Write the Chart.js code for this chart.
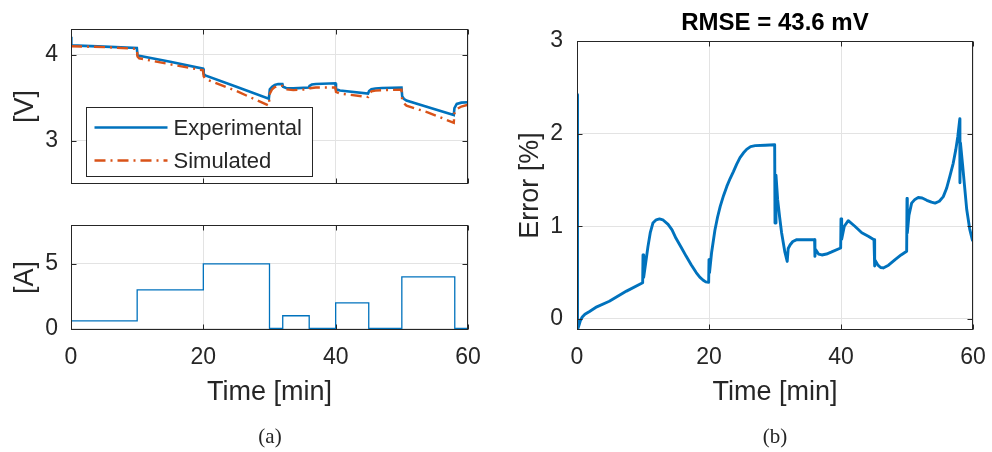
<!DOCTYPE html>
<html>
<head>
<meta charset="utf-8">
<title>Voltage, current and error</title>
<script src="https://cdn.jsdelivr.net/npm/chart.js@4.4.0/dist/chart.umd.min.js"></script>
<style>
  body { margin: 0; background: #fff; }
  #wrap { position: relative; width: 992px; height: 452px; }
  canvas { position: absolute; left: 0; top: 0; }
  .cap { position: absolute; top: 422px; width: 100px; text-align: center;
         font: 21px "Liberation Serif", serif; color: #262626; line-height: 28px; }
</style>
</head>
<body>
<div id="wrap">
  <canvas id="volt" width="992" height="452"></canvas>
  <canvas id="amp" width="992" height="452"></canvas>
  <canvas id="err" width="992" height="452"></canvas>
  <div class="cap" style="left:220px">(a)</div>
  <div class="cap" style="left:725px">(b)</div>
</div>
<script>
  Chart.defaults.font.family = '"Liberation Sans", Arial, sans-serif';
  Chart.defaults.color = '#262626';
  Chart.defaults.animation = false;

  // tick labels
  var timeTicks = [0, 20, 40, 60];
  var voltTicks = [3, 4];
  var ampTicks = [0, 5];
  var errTicks = [0, 1, 2, 3];

  // (a) top: terminal voltage [V]
  var voltTime = [0, 0.05, 5, 9.95, 10.05, 10.3, 15, 19.95, 20.05, 20.3, 25, 29.9,
                  30.05, 30.4, 30.8, 31.3, 31.95, 32.05, 32.5, 33.6, 35.95, 36.05, 36.4, 37, 38, 39.95,
                  40.05, 40.65, 44.9, 45.05, 45.4, 46, 47, 49.95, 50.05, 50.3, 50.7, 54, 57.85,
                  57.95, 58.3, 59, 60];
  var voltExp = [4.21, 4.11, 4.095, 4.08, 4.0, 3.99, 3.92, 3.84, 3.78, 3.76, 3.63, 3.49,
                 3.6, 3.63, 3.65, 3.66, 3.66, 3.63, 3.615, 3.61, 3.62, 3.64, 3.655, 3.662, 3.665, 3.67,
                 3.6, 3.585, 3.55, 3.58, 3.6, 3.61, 3.615, 3.62, 3.52, 3.49, 3.47, 3.39, 3.3,
                 3.38, 3.43, 3.445, 3.45];
  var voltSim = [4.1, 4.1, 4.09, 4.07, 3.98, 3.96, 3.89, 3.82, 3.75, 3.72, 3.58, 3.41,
                 3.55, 3.6, 3.625, 3.64, 3.64, 3.62, 3.6, 3.59, 3.6, 3.61, 3.615, 3.62, 3.62, 3.62,
                 3.57, 3.55, 3.51, 3.55, 3.575, 3.585, 3.59, 3.595, 3.47, 3.44, 3.41, 3.33, 3.21,
                 3.32, 3.37, 3.4, 3.42];

  // (a) bottom: applied current [A]
  var ampTime = [0, 10, 20, 30, 32, 36, 40, 45, 50, 58, 60];
  var ampVal = [0.6, 3, 5, 0.03, 1, 0.03, 2, 0.03, 4, 0.03, 0.03];

  // (b) relative error [%]
  var errTime = [0, 0.02, 0.15, 0.3, 0.5, 0.8, 1.2, 1.9, 3.0, 4.9, 7.5, 9.95,
                 10.0, 10.1, 10.4, 10.75, 11.1, 11.5, 12.0, 12.5, 13.0, 13.8, 14.4, 15.0, 15.8, 16.55,
                 17.3, 18.06, 18.6, 19.08, 19.5, 19.95,
                 20.0, 20.08, 20.4, 20.9, 21.3, 21.7, 22.2, 22.7, 23.2, 23.7, 24.2, 24.7, 25.2, 25.7,
                 26.3, 27.0, 28.5, 29.95,
                 30.0, 30.15, 30.4, 30.7, 31.0, 31.5, 31.85, 32.0, 32.3, 32.7, 33.3, 36.0,
                 36.05, 36.15, 36.6, 37.1, 37.8, 38.5, 39.95,
                 40.0, 40.1, 40.5, 41.1, 42.1, 43.15, 44.2, 45.0,
                 45.05, 45.15, 45.6, 46.0, 46.4, 47.2, 48.2, 49.1, 49.95,
                 50.0, 50.05, 50.3, 50.7, 51.2, 51.7, 52.3, 53.0, 53.7, 54.25, 54.9, 55.5, 56.0, 56.5,
                 57.0, 57.4, 57.7, 58.0,
                 58.02, 58.1, 58.4, 58.7, 59.05, 59.5, 59.95];
  var errVal = [2.42, -0.11, -0.115, -0.07, -0.02, 0.02, 0.05, 0.08, 0.13, 0.19, 0.3, 0.39,
                0.69, 0.45, 0.6, 0.78, 0.93, 1.035, 1.07, 1.08, 1.07, 1.02, 0.96, 0.87, 0.77, 0.675,
                0.585, 0.5, 0.45, 0.42, 0.4, 0.395,
                0.64, 0.5, 0.72, 0.96, 1.1, 1.215, 1.33, 1.43, 1.515, 1.59, 1.67, 1.74, 1.79, 1.83,
                1.86, 1.87, 1.875, 1.88,
                1.035, 1.55, 1.29, 1.1, 0.93, 0.72, 0.62, 0.76, 0.8, 0.835, 0.855, 0.855,
                0.675, 0.75, 0.7, 0.69, 0.7, 0.72, 0.765,
                1.08, 0.86, 1.0, 1.06, 1.0, 0.93, 0.89, 0.855,
                0.57, 0.64, 0.58, 0.555, 0.55, 0.58, 0.64, 0.69, 0.73,
                1.3, 0.93, 1.12, 1.25, 1.29, 1.31, 1.305, 1.28, 1.26, 1.25, 1.27, 1.32, 1.41, 1.54,
                1.68, 1.83, 1.97, 2.16,
                1.47, 1.9, 1.68, 1.45, 1.18, 0.97, 0.84];

  var blue = '#0072bd', orange = '#d95319', ink = '#262626', gridCol = '#e3e3e3';

  function pts(xs, ys) {
    return xs.map(function(x, i) { return {x: x, y: ys[i]}; });
  }

  function fixTicks(list) {
    return function(scale) { scale.ticks = list.map(function(v) { return {value: v}; }); };
  }

  // MATLAB style box with inward tick marks
  var frame = {
    id: 'frame',
    afterDraw: function(chart) {
      var a = chart.chartArea, ctx = chart.ctx, sx = chart.scales.x, sy = chart.scales.y;
      var l = Math.round(a.left) + 0.5, r = Math.round(a.right) - 0.5;
      var t = Math.round(a.top) + 0.5, b = Math.round(a.bottom) - 0.5;
      ctx.save();
      ctx.strokeStyle = ink;
      ctx.lineWidth = 1;
      ctx.strokeRect(l, t, r - l, b - t);
      ctx.beginPath();
      sx.ticks.forEach(function(tk) {
        var p = Math.round(sx.getPixelForValue(tk.value)) + 0.5;
        ctx.moveTo(p, b); ctx.lineTo(p, b - 5);
        ctx.moveTo(p, t); ctx.lineTo(p, t + 5);
      });
      sy.ticks.forEach(function(tk) {
        var p = Math.round(sy.getPixelForValue(tk.value)) + 0.5;
        ctx.moveTo(l, p); ctx.lineTo(l + 5, p);
        ctx.moveTo(r, p); ctx.lineTo(r - 5, p);
      });
      ctx.stroke();
      ctx.restore();
    }
  };

  var legendBox = {
    id: 'legendBox',
    afterDraw: function(chart) {
      var a = chart.chartArea, ctx = chart.ctx;
      var x = Math.round(a.left) + 15.5, y = Math.round(a.top) + 78.5, w = 226, h = 69;
      ctx.save();
      ctx.fillStyle = '#fff';
      ctx.fillRect(x, y, w, h);
      ctx.strokeStyle = ink;
      ctx.lineWidth = 1;
      ctx.strokeRect(x, y, w, h);
      ctx.font = '22px "Liberation Sans", Arial, sans-serif';
      ctx.textBaseline = 'middle';
      chart.data.datasets.forEach(function(ds, i) {
        var ly = y + 20 + i * 33;
        ctx.strokeStyle = ds.borderColor;
        ctx.lineWidth = ds.borderWidth;
        ctx.setLineDash(ds.borderDash || []);
        ctx.beginPath();
        ctx.moveTo(x + 8, ly);
        ctx.lineTo(x + 81, ly);
        ctx.stroke();
        ctx.setLineDash([]);
        ctx.fillStyle = ink;
        ctx.fillText(ds.label, x + 87, ly + 1);
      });
      ctx.restore();
    }
  };

  function xAxis(height, showLabels) {
    return {
      type: 'linear', min: 0, max: 60,
      afterBuildTicks: fixTicks(timeTicks),
      ticks: {display: showLabels, padding: 14, font: {size: 23}},
      grid: {color: gridCol, drawTicks: false},
      border: {display: false},
      title: {display: showLabels, text: 'Time [min]', font: {size: 27}, padding: {top: 0, bottom: 6}},
      afterFit: function(s) { s.height = height; s.paddingLeft = 0; s.paddingRight = 0; }
    };
  }

  function yAxis(min, max, list, label, width, titlePad, tickPad) {
    return {
      min: min, max: max,
      afterBuildTicks: fixTicks(list),
      ticks: {padding: tickPad, font: {size: 23}},
      grid: {color: gridCol, drawTicks: false},
      border: {display: false},
      title: {display: true, text: label, font: {size: 27}, padding: {top: titlePad, bottom: 0}},
      afterFit: function(s) { s.width = width; s.paddingTop = 0; s.paddingBottom = 0; }
    };
  }

  var quiet = {legend: {display: false}, tooltip: {enabled: false}};

  new Chart(document.getElementById('volt'), {
    type: 'line',
    data: {
      datasets: [
        {label: 'Experimental', data: pts(voltTime, voltExp), borderColor: blue, borderWidth: 2.6,
         pointRadius: 0, order: 1},
        {label: 'Simulated', data: pts(voltTime, voltSim), borderColor: orange, borderWidth: 2.4,
         borderDash: [11, 5, 2, 5], pointRadius: 0, order: 0}
      ]
    },
    options: {
      responsive: false,
      layout: {padding: {left: 0, top: 29, right: 524, bottom: 268}},
      plugins: quiet,
      scales: {
        x: xAxis(0, false),
        y: yAxis(2.5, 4.3, voltTicks, '[V]', 71, 9, 13)
      }
    },
    plugins: [frame, legendBox]
  });

  new Chart(document.getElementById('amp'), {
    type: 'line',
    data: {
      datasets: [
        {label: 'Current', data: pts(ampTime, ampVal), borderColor: blue, borderWidth: 1.3,
         stepped: true, pointRadius: 0}
      ]
    },
    options: {
      responsive: false,
      layout: {padding: {left: 0, top: 225, right: 524, bottom: 37}},
      plugins: quiet,
      scales: {
        x: xAxis(85, true),
        y: yAxis(-0.1, 8, ampTicks, '[A]', 71, 9, 13)
      }
    },
    plugins: [frame]
  });

  new Chart(document.getElementById('err'), {
    type: 'line',
    data: {
      datasets: [
        {label: 'Error', data: pts(errTime, errVal), borderColor: blue, borderWidth: 2.9, pointRadius: 0,
         borderJoinStyle: 'round'}
      ]
    },
    options: {
      responsive: false,
      layout: {padding: {left: 500, top: 0, right: 19, bottom: 37}},
      plugins: quiet,
      scales: {
        x: xAxis(85, true),
        xTop: {
          type: 'linear', position: 'top', min: 0, max: 60,
          ticks: {display: false},
          grid: {display: false},
          border: {display: false},
          title: {display: true, text: 'RMSE = 43.6 mV', font: {size: 24, weight: 'bold'},
                  color: '#000', padding: {top: 9, bottom: 0}},
          afterFit: function(s) { s.height = 41; s.paddingLeft = 0; s.paddingRight = 0; }
        },
        y: yAxis(-0.12, 3, errTicks, 'Error [%]', 77, 14, 14)
      }
    },
    plugins: [frame]
  });
</script>
</body>
</html>
